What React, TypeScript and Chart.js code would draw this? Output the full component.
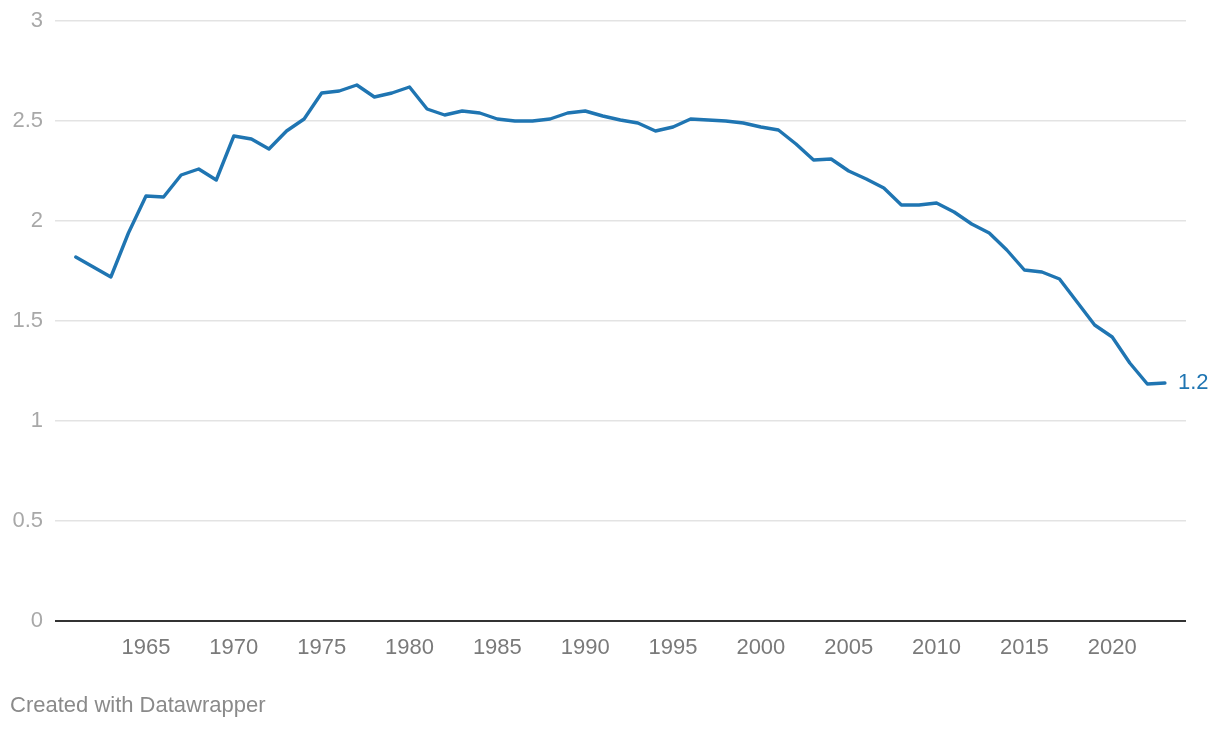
import React, { useEffect, useRef } from "react";
import { Chart, registerables } from "chart.js";

Chart.register(...registerables);

const years: number[] = [
  1961, 1962, 1963, 1964, 1965, 1966, 1967, 1968, 1969, 1970,
  1971, 1972, 1973, 1974, 1975, 1976, 1977, 1978, 1979, 1980,
  1981, 1982, 1983, 1984, 1985, 1986, 1987, 1988, 1989, 1990,
  1991, 1992, 1993, 1994, 1995, 1996, 1997, 1998, 1999, 2000,
  2001, 2002, 2003, 2004, 2005, 2006, 2007, 2008, 2009, 2010,
  2011, 2012, 2013, 2014, 2015, 2016, 2017, 2018, 2019, 2020,
  2021, 2022, 2023,
];

const values: number[] = [
  1.82, 1.77, 1.72, 1.94, 2.125, 2.12, 2.23, 2.26, 2.205, 2.425,
  2.41, 2.36, 2.45, 2.51, 2.64, 2.65, 2.68, 2.62, 2.64, 2.67,
  2.56, 2.53, 2.55, 2.54, 2.51, 2.50, 2.50, 2.51, 2.54, 2.55,
  2.525, 2.505, 2.49, 2.45, 2.47, 2.51, 2.505, 2.50, 2.49, 2.47,
  2.455, 2.385, 2.305, 2.31, 2.25, 2.21, 2.165, 2.08, 2.08, 2.09,
  2.045, 1.985, 1.94, 1.855, 1.755, 1.745, 1.71, 1.595, 1.48, 1.42,
  1.29, 1.185, 1.19,
];

const xTicks: number[] = [1965, 1970, 1975, 1980, 1985, 1990, 1995, 2000, 2005, 2010, 2015, 2020];
const yTicks: number[] = [0, 0.5, 1, 1.5, 2, 2.5, 3];
const lastLabel = "1.2";
const footer = "Created with Datawrapper";

const BLUE = "#1f75b2";
const FONT = "'Liberation Sans', Arial, Helvetica, sans-serif";

const endLabelPlugin = {
  id: "endLabel",
  afterDatasetsDraw(chart: any) {
    const meta = chart.getDatasetMeta(0);
    const pt = meta.data[meta.data.length - 1];
    if (!pt) return;
    const ctx = chart.ctx;
    ctx.save();
    ctx.font = `22px ${FONT}`;
    ctx.fillStyle = BLUE;
    ctx.textAlign = "left";
    ctx.textBaseline = "middle";
    ctx.fillText(lastLabel, pt.x + 13, pt.y);
    ctx.restore();
  },
};

export default function App() {
  const ref = useRef<HTMLCanvasElement | null>(null);

  useEffect(() => {
    document.body.style.margin = "0";
    if (!ref.current) return;
    const chart = new Chart(ref.current, {
      type: "line",
      data: {
        datasets: [
          {
            data: years.map((y, i) => ({ x: y, y: values[i] })),
            borderColor: BLUE,
            borderWidth: 3.4,
            pointRadius: 0,
            tension: 0,
            fill: false,
            borderJoinStyle: "round",
            borderCapStyle: "round",
          },
        ],
      },
      options: {
        responsive: false,
        animation: false,
        layout: { padding: { left: 0, right: 34, top: 21, bottom: 0 } },
        plugins: {
          legend: { display: false },
          tooltip: { enabled: false },
        },
        scales: {
          x: {
            type: "linear",
            min: 1959.82,
            max: 2024.2,
            afterBuildTicks: (scale: any) => {
              scale.ticks = xTicks.map((v) => ({ value: v }));
            },
            afterFit: (scale: any) => {
              scale.height = 109;
              scale.paddingLeft = 0;
              scale.paddingRight = 0;
            },
            grid: { display: false, drawTicks: false },
            border: { display: false },
            ticks: {
              padding: 14,
              color: "#7a7a7a",
              font: { family: FONT, size: 22 },
              maxRotation: 0,
              autoSkip: false,
              callback: (v: any) => String(v),
            },
          },
          y: {
            min: 0,
            max: 3,
            afterBuildTicks: (scale: any) => {
              scale.ticks = yTicks.map((v) => ({ value: v }));
            },
            afterFit: (scale: any) => {
              scale.width = 55;
              scale.paddingTop = 0;
              scale.paddingBottom = 0;
            },
            grid: {
              drawTicks: false,
              color: (c: any) => (c.tick && c.tick.value === 0 ? "#333333" : "#e3e3e3"),
              lineWidth: (c: any) => (c.tick && c.tick.value === 0 ? 2 : 1.5),
            },
            border: { display: false },
            ticks: {
              padding: 12,
              color: "#a8a8a8",
              font: { family: FONT, size: 22 },
              callback: (v: any) => String(v),
            },
          },
        },
      },
      plugins: [endLabelPlugin],
    } as any);
    return () => chart.destroy();
  }, []);

  return (
    <div style={{ position: "relative", width: 1220, height: 730, background: "#fff" }}>
      <canvas ref={ref} width={1220} height={730} style={{ display: "block" }} />
      <div
        style={{
          position: "absolute",
          left: 10,
          top: 692,
          fontFamily: FONT,
          fontSize: 22,
          color: "#8a8a8a",
          whiteSpace: "nowrap",
        }}
      >
        {footer}
      </div>
    </div>
  );
}
